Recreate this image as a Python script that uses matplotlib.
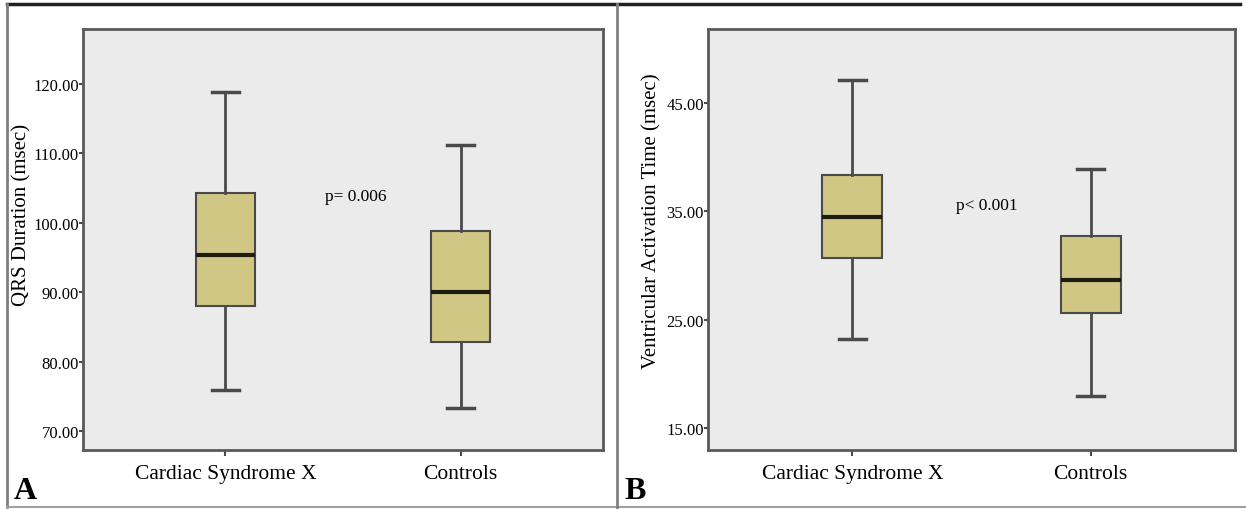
import matplotlib
matplotlib.use("Agg")
import matplotlib.pyplot as plt
from matplotlib.lines import Line2D

plt.rcParams['font.family'] = ['Liberation Serif', 'DejaVu Serif']

# data
groups = ["Cardiac Syndrome X", "Controls"]

# QRS duration (msec): whisker low, q1, median, q3, whisker high
qrs_low = [75.9, 73.4]
qrs_q1 = [88.0, 82.8]
qrs_med = [95.3, 90.1]
qrs_q3 = [104.3, 98.8]
qrs_high = [118.9, 111.2]
qrs_ticks = [70, 80, 90, 100, 110, 120]

# Ventricular activation time (msec)
vat_low = [23.2, 18.0]
vat_q1 = [30.7, 25.6]
vat_med = [34.5, 28.7]
vat_q3 = [38.3, 32.7]
vat_high = [47.1, 38.9]
vat_ticks = [15, 25, 35, 45]

BOX_COLOR = "#d0c785"
EDGE = "#4a4a4a"
BG = "#ebebeb"


def draw_panel(ax, low, q1, med, q3, high, ticks, ylim, ptext, pxy):
    stats = []
    for i, g in enumerate(groups):
        stats.append(dict(label=g, whislo=low[i], q1=q1[i], med=med[i],
                          q3=q3[i], whishi=high[i], fliers=[]))
    ax.bxp(stats, positions=[1, 2], widths=0.25, patch_artist=True,
           showfliers=False,
           boxprops=dict(facecolor=BOX_COLOR, edgecolor=EDGE, linewidth=1.5),
           medianprops=dict(color="#1e1c10", linewidth=3),
           whiskerprops=dict(color=EDGE, linewidth=2),
           capprops=dict(color=EDGE, linewidth=2.5),
           capwidths=0.115)
    ax.set_facecolor(BG)
    ax.set_xlim(0.395, 2.605)
    ax.set_ylim(*ylim)
    ax.set_yticks(ticks)
    ax.set_yticklabels([f"{t:.2f}" for t in ticks], fontsize=12)
    ax.set_xticks([1, 2])
    ax.set_xticklabels(groups, fontsize=15.5)
    ax.tick_params(axis="y", length=3, width=1.5, color=EDGE, pad=0)
    ax.tick_params(axis="x", length=4, width=1.5, color=EDGE, pad=6)
    for s in ax.spines.values():
        s.set_color("#5a5a5a")
        s.set_linewidth(2)
    ax.text(pxy[0], pxy[1], ptext, fontsize=12.5, ha="left", va="center")


fig = plt.figure(figsize=(12.46, 5.10), dpi=100)
fig.patch.set_facecolor("white")

ax1 = fig.add_axes([83 / 1246, 1 - 451 / 510, 520 / 1246, 421 / 510])
ax2 = fig.add_axes([708 / 1246, 1 - 451 / 510, 527 / 1246, 421 / 510])

draw_panel(ax1, qrs_low, qrs_q1, qrs_med, qrs_q3, qrs_high, qrs_ticks,
           (67.3, 127.9), "p= 0.006", (1.425, 103.9))
draw_panel(ax2, vat_low, vat_q1, vat_med, vat_q3, vat_high, vat_ticks,
           (13.0, 51.8), "p< 0.001", (1.433, 35.55))

fig.text(22 / 1246, 1 - 215 / 510, "QRS Duration (msec)", rotation=90,
         ha="center", va="center", fontsize=15)
fig.text(652 / 1246, 1 - 221 / 510, "Ventricular Activation Time (msec)",
         rotation=90, ha="center", va="center", fontsize=15)

fig.text(14 / 1246, 1 - 506 / 510, "A", fontsize=23, fontweight="bold",
         ha="left", va="bottom")
fig.text(624 / 1246, 1 - 506 / 510, "B", fontsize=23, fontweight="bold",
         ha="left", va="bottom")

# outer frame of the composite figure
def fline(x0, y0, x1, y1, color, lw):
    fig.add_artist(Line2D([x0 / 1246, x1 / 1246], [1 - y0 / 510, 1 - y1 / 510],
                          color=color, linewidth=lw, transform=fig.transFigure))

fline(7, 5, 1240, 5, "#202020", 2.5)
fline(7, 5, 7, 508, "#808080", 2)
fline(7, 508, 1246, 508, "#a0a0a0", 1.5)
fline(617, 5, 617, 508, "#808080", 2)

fig.savefig("out.png", dpi=100)
